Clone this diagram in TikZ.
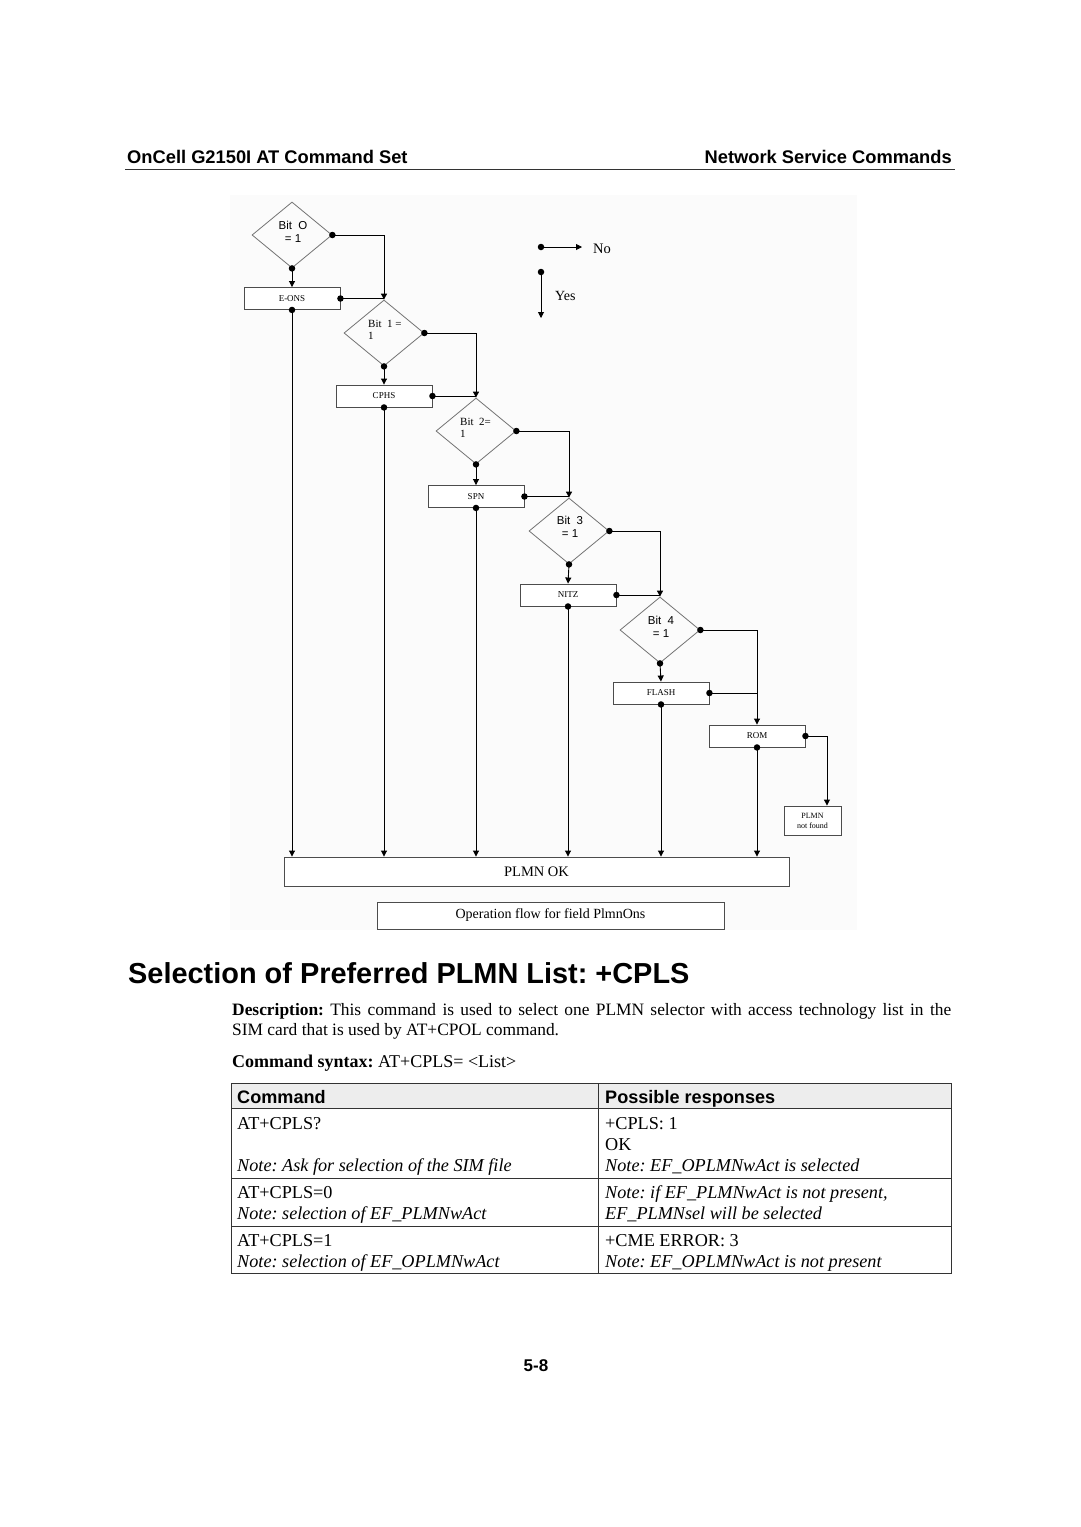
\documentclass[tikz,border=0pt]{standalone}
\usepackage{fontspec}
\setmainfont{Liberation Serif}
\setsansfont{Liberation Sans}
\usetikzlibrary{shapes.geometric,arrows.meta,calc}
\frenchspacing
\begin{document}
\begin{tikzpicture}[x=1pt,y=-1pt,
  fbox/.style={draw=black!70, line width=0.9pt, minimum width=96pt, minimum height=22pt, inner sep=0pt, fill=white, font=\fontsize{9}{10}\selectfont},
  dia/.style={diamond, draw=black!55, line width=0.8pt, minimum width=80pt, minimum height=66pt, inner sep=0pt},
  dlab/.style={font=\sffamily\fontsize{11.5}{12.5}\selectfont, align=center, inner sep=0pt},
  dlabs/.style={font=\fontsize{11}{12.5}\selectfont, align=left, inner sep=0pt},
  yesline/.style={line width=0.9pt, -{Triangle[length=6pt,width=6pt]}},
  plainline/.style={line width=0.9pt},
  dot/.style={circle, fill=black, inner sep=0pt, minimum size=6.5pt},
  txt/.style={anchor=base west, inner sep=0pt},
  ttxt/.style={anchor=base west, inner sep=0pt, font=\fontsize{18.2}{20}\selectfont},
  itxt/.style={anchor=base west, inner sep=0pt, font=\itshape\fontsize{18.2}{20}\selectfont},
]
\useasboundingbox (0,0) rectangle (1080,1527);
\fill[white] (0,0) rectangle (1080,1527);

% page header
\node[txt, font=\sffamily\bfseries\fontsize{18.3}{20}\selectfont] (hl) at (127,163) {OnCell G2150I AT Command Set};
\node[anchor=base east, inner sep=0pt, font=\sffamily\bfseries\fontsize{18.3}{20}\selectfont] (hr) at (952,163) {Network Service Commands};
\draw[line width=1pt, black!80] (125,169) -- (955,169);

% flowchart background
\fill[black!1.5] (230,195) rectangle (857,930);

% diamonds
\node[dia] (d0) at (292,235) {};
\node[dia] (d1) at (384,333) {};
\node[dia] (d2) at (476,431) {};
\node[dia] (d3) at (569,531) {};
\node[dia] (d4) at (660,630) {};
\node[dlab] (t0) at (293,232) {Bit\ \ O\\= 1};
\node[dlabs, anchor=west] (t1) at (368,330) {Bit\ \ 1 =\\1};
\node[dlabs, anchor=west] (t2) at (460,428) {Bit\ \ 2=\\1};
\node[dlab] (t3) at (570,527) {Bit\ \ 3\\= 1};
\node[dlab] (t4) at (661,627) {Bit\ \ 4\\= 1};

% boxes
\node[fbox] (eons) at (292,298.5) {E-ONS};
\node[fbox] (cphs) at (384,396) {CPHS};
\node[fbox] (spn) at (476,496.5) {SPN};
\node[fbox] (nitz) at (568,595) {NITZ};
\node[fbox] (flash) at (661,693) {FLASH};
\node[fbox] (rom) at (757,736) {ROM};
\node[fbox, minimum width=57pt, minimum height=29pt, align=center, font=\fontsize{8}{10}\selectfont] (nf) at (812.5,820.5) {PLMN\\not found};
\node[fbox, minimum width=505pt, minimum height=29pt, font=\fontsize{14.5}{16}\selectfont] (ok) at (536.5,871.5) {PLMN OK};
\node[fbox, minimum width=347pt, minimum height=27pt, font=\fontsize{14}{16}\selectfont] (cap) at (550.5,915.5) {Operation flow for field PlmnOns};

% yes branches
\draw[yesline] (d0.south) node[dot]{} -- (eons.north);
\draw[yesline] (d1.south) node[dot]{} -- (cphs.north);
\draw[yesline] (d2.south) node[dot]{} -- (spn.north);
\draw[yesline] (d3.south) node[dot]{} -- (nitz.north);
\draw[yesline] (d4.south) node[dot]{} -- (flash.north);

% no branches
\draw[yesline] (d0.east) node[dot]{} -| (d1.north);
\draw[yesline] (d1.east) node[dot]{} -| (d2.north);
\draw[yesline] (d2.east) node[dot]{} -| (d3.north);
\draw[yesline] (d3.east) node[dot]{} -| (d4.north);
\draw[yesline] (d4.east) node[dot]{} -| (rom.north);
\coordinate (nfin) at ($(nf.north)!0.5!(nf.north east)$);
\draw[yesline] (rom.east) node[dot]{} -| (nfin);

% box failure joins
\draw[plainline] (eons.east) node[dot]{} -- (eons.east -| d1.north);
\draw[plainline] (cphs.east) node[dot]{} -- (cphs.east -| d2.north);
\draw[plainline] (spn.east) node[dot]{} -- (spn.east -| d3.north);
\draw[plainline] (nitz.east) node[dot]{} -- (nitz.east -| d4.north);
\draw[plainline] (flash.east) node[dot]{} -- (flash.east -| rom.north);

% to PLMN OK
\draw[yesline] (eons.south) node[dot]{} -- (eons.south |- ok.north);
\draw[yesline] (cphs.south) node[dot]{} -- (cphs.south |- ok.north);
\draw[yesline] (spn.south) node[dot]{} -- (spn.south |- ok.north);
\draw[yesline] (nitz.south) node[dot]{} -- (nitz.south |- ok.north);
\draw[yesline] (flash.south) node[dot]{} -- (flash.south |- ok.north);
\draw[yesline] (rom.south) node[dot]{} -- (rom.south |- ok.north);

% legend
\coordinate (nA) at (541,247);
\coordinate (nB) at (582,247);
\coordinate (yA) at (541,272);
\coordinate (yB) at (541,318);
\draw[yesline] (nA) node[dot]{} -- (nB);
\draw[yesline] (yA) node[dot]{} -- (yB);
\node[anchor=west, inner sep=0pt, font=\fontsize{14.5}{16}\selectfont] (lno) at (593,249) {No};
\node[anchor=west, inner sep=0pt, font=\fontsize{14}{16}\selectfont] (lyes) at (555,296) {Yes};

% heading
\node[txt, font=\sffamily\bfseries\fontsize{28.9}{32}\selectfont] (h1) at (128,983) {Selection of Preferred PLMN List: +CPLS};

% description
\node[txt, font=\fontsize{17.4}{20}\selectfont] (desc1) at (232,1015) {\makebox[719pt][s]{\textbf{Description:} This command is used to select one PLMN selector with access technology list in the}};
\node[txt, font=\fontsize{17.4}{20}\selectfont] (desc2) at (232,1035) {SIM card that is used by AT+CPOL command.};
\node[txt, font=\fontsize{18}{20}\selectfont] (syn) at (232,1067) {\textbf{Command syntax:} AT+CPLS= <List>};

% table
\fill[black!7] (231,1083) rectangle (951,1108);
\draw[line width=0.8pt, black!80] (231,1083) rectangle (951,1273);
\draw[line width=0.8pt, black!80] (231,1108) -- (951,1108);
\draw[line width=0.8pt, black!80] (231,1178) -- (951,1178);
\draw[line width=0.8pt, black!80] (231,1226) -- (951,1226);
\draw[line width=0.8pt, black!80] (598,1083) -- (598,1273);

\node[txt, font=\sffamily\bfseries\fontsize{18.1}{20}\selectfont] (th1) at (237,1103) {Command};
\node[txt, font=\sffamily\bfseries\fontsize{18.1}{20}\selectfont] (th2) at (605,1103) {Possible responses};

\node[ttxt] (r1a) at (237,1129) {AT+CPLS?};
\node[itxt] (r1b) at (237,1171) {Note: Ask for selection of the SIM file};
\node[ttxt] (r1c) at (605,1129) {+CPLS: 1};
\node[ttxt] (r1d) at (605,1150) {OK};
\node[itxt] (r1e) at (605,1171) {Note: EF\_OPLMNwAct is selected};

\node[ttxt] (r2a) at (237,1198) {AT+CPLS=0};
\node[itxt] (r2b) at (237,1219) {Note: selection of EF\_PLMNwAct};
\node[itxt] (r2c) at (605,1198) {Note: if EF\_PLMNwAct is not present,};
\node[itxt] (r2d) at (605,1219) {EF\_PLMNsel will be selected};

\node[ttxt] (r3a) at (237,1246) {AT+CPLS=1};
\node[itxt] (r3b) at (237,1267) {Note: selection of EF\_OPLMNwAct};
\node[ttxt] (r3c) at (605,1246) {+CME ERROR: 3};
\node[itxt] (r3d) at (605,1267) {Note: EF\_OPLMNwAct is not present};

% page number
\node[anchor=base, inner sep=0pt, font=\sffamily\bfseries\fontsize{17}{19}\selectfont] (pg) at (536,1371) {5-8};
\end{tikzpicture}
\end{document}
